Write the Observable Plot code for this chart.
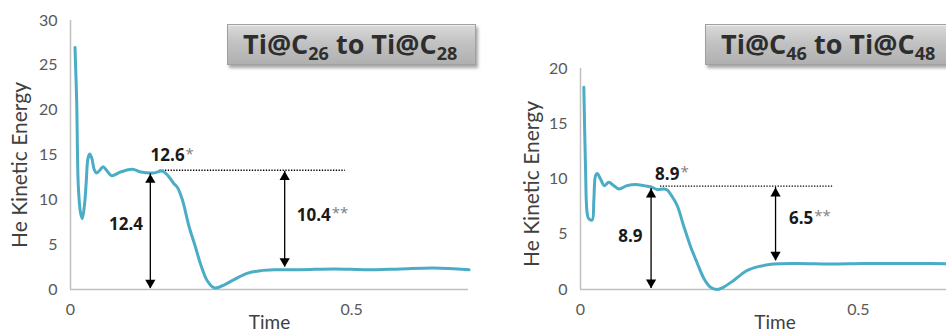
<!DOCTYPE html>
<html>
<head>
<meta charset="utf-8">
<script src="https://cdn.jsdelivr.net/npm/d3@7"></script>
<script src="https://cdn.jsdelivr.net/npm/@observablehq/plot@0.6"></script>
<style>
  html, body { margin: 0; padding: 0; background: #fff; }
  #wrap { position: relative; width: 946px; height: 332px; overflow: hidden; background: #fff; }
  .panel { position: absolute; top: 0; }
  .panel svg { max-width: none !important; }
  .box {
    position: absolute; box-sizing: border-box; height: 41px;
    background: linear-gradient(#dadada, #c2c2c2 45%, #b0b0b0);
    border: 1px solid #a0a0a0;
    box-shadow: 2px 3px 3px rgba(0,0,0,0.35), inset 0 1px 0 #eeeeee;
    font-family: "Open Sans", sans-serif; font-weight: 700; font-size: 27px;
    color: #2e2e2e; line-height: 38px; padding-left: 15px; white-space: nowrap;
  }
  .box sub { font-size: 18px; vertical-align: -6px; line-height: 0; }
</style>
</head>
<body>
<div id="wrap">
  <div id="left" class="panel" style="left:0px; width:480px;"></div>
  <div id="right" class="panel" style="left:480px; width:500px;"></div>
  <div class="box" style="left:227px; top:24px; width:249px;">Ti@C<sub>26</sub> to Ti@C<sub>28</sub></div>
  <div class="box" style="left:705px; top:24px; width:260px;">Ti@C<sub>46</sub> to Ti@C<sub>48</sub></div>
</div>
<script>
// ---- Data: Ti@C26 -> Ti@C28 (left) ----
const timeLeft = [0.008,0.011,0.014,0.018,0.021,0.025,0.028,0.031,0.034,0.038,0.042,0.046,0.052,0.058,0.064,0.073,0.089,0.110,0.125,0.148,0.163,0.172,0.184,0.190,0.199,0.211,0.222,0.231,0.243,0.255,0.261,0.273,0.291,0.314,0.338,0.362,0.409,0.469,0.528,0.587,0.646,0.709];
const energyLeft = [27.0,21.0,11.4,8.5,7.9,9.5,12.0,14.6,15.1,14.6,13.4,13.0,13.3,13.7,13.3,12.7,13.1,13.4,13.1,13.0,13.2,12.8,11.8,11.4,10.0,7.0,4.8,2.9,1.0,0.2,0.2,0.5,1.1,1.8,2.1,2.2,2.2,2.3,2.2,2.3,2.4,2.2];

// ---- Data: Ti@C46 -> Ti@C48 (right) ----
const timeRight = [0.006,0.009,0.012,0.015,0.021,0.024,0.027,0.030,0.036,0.043,0.051,0.060,0.069,0.084,0.099,0.114,0.126,0.138,0.150,0.156,0.165,0.174,0.186,0.198,0.210,0.222,0.234,0.246,0.257,0.275,0.299,0.323,0.347,0.389,0.449,0.509,0.569,0.629,0.700];
const energyRight = [18.3,11.1,6.9,6.4,6.3,8.1,10.3,10.5,10.0,9.4,9.7,9.4,9.1,9.4,9.5,9.4,9.3,9.05,9.1,9.0,8.4,7.6,5.7,3.9,2.4,1.0,0.2,0.0,0.2,0.8,1.7,2.1,2.3,2.35,2.3,2.35,2.35,2.35,2.3];

// Tick labels
const xTicks = [0, 0.5];
const yTicksLeft = [0, 5, 10, 15, 20, 25, 30];
const yTicksRight = [0, 5, 10, 15, 20];

// Annotations (data units)
const arrowTimeLeft = [0.142, 0.381];
const arrowLowLeft = [0.1, 2.5];
const arrowHighLeft = [12.9, 13.2];
const dottedLeft = {level: 13.3, from: 0.159, to: 0.489};
const labelsLeft = [
  {t: 0.203, e: 14.9, num: "12.6", star: "*"},
  {t: 0.463, e: 8.3, num: "10.4", star: "**"}
];
const plainLabelLeft = [{t: 0.0988, e: 7.2, num: "12.4"}];

const arrowTimeRight = [0.127, 0.351];
const arrowLowRight = [0.1, 2.6];
const arrowHighRight = [9.14, 9.23];
const dottedRight = {level: 9.35, from: 0.144, to: 0.455};
const labelsRight = [
  {t: 0.178, e: 10.4, num: "8.9", star: "*"},
  {t: 0.419, e: 6.43, num: "6.5", star: "**"}
];
const plainLabelRight = [{t: 0.0898, e: 4.83, num: "8.9"}];

function panel(cfg) {
  const series = cfg.time.map((t, i) => ({t, e: cfg.energy[i]}));
  const arrows = cfg.arrowTime.map((t, i) => ({t, lo: cfg.arrowLow[i], hi: cfg.arrowHigh[i]}));
  const numFont = {fontFamily: "Open Sans", fontWeight: 700, fontSize: 17, fill: "#1a1a1a"};
  return Plot.plot({
    width: cfg.width, height: 332,
    marginLeft: cfg.marginLeft, marginRight: cfg.marginRight,
    marginTop: cfg.marginTop, marginBottom: 43,
    x: {domain: [0, cfg.xMax]},
    y: {domain: [0, cfg.yMax]},
    style: {fontFamily: "Lato, sans-serif", background: "transparent", overflow: "visible", maxWidth: "none"},
    marks: [
      Plot.ruleX([0], {stroke: "#c0c0c0", strokeWidth: 1.5}),
      Plot.ruleY([0], {stroke: "#c0c0c0", strokeWidth: 1.5}),
      Plot.axisY({ticks: cfg.yTicks, tickSize: 0, tickPadding: 13, fontSize: 16, fill: "#595959", tickFormat: d => String(d), label: null}),
      Plot.axisX({ticks: xTicks, tickSize: 0, tickPadding: 14, fontSize: 16, fill: "#595959", tickFormat: d => String(d), label: null}),
      Plot.text(["Time"], {frameAnchor: "bottom", lineAnchor: "middle", dy: 33, fontSize: 19, fill: "#404040"}),
      Plot.text(["He Kinetic Energy"], {frameAnchor: "left", textAnchor: "middle", lineAnchor: "middle", rotate: -90, dx: cfg.ylabDx, dy: cfg.ylabDy, fontSize: 21, fill: "#404040"}),
      Plot.ruleY([cfg.dotted], {y: "level", x1: "from", x2: "to", stroke: "#000", strokeWidth: 1.3, strokeDasharray: "1.3,1.5"}),
      Plot.line(series, {x: "t", y: "e", stroke: "#4bacc6", strokeWidth: 3, curve: "catmull-rom"}),
      Plot.ruleX(arrows, {x: "t", y1: "lo", y2: "hi", stroke: "#000", strokeWidth: 1.3}),
      Plot.dot(arrows, {x: "t", y: "hi", symbol: "triangle", r: 3.8, fill: "#000", stroke: null, dy: 6}),
      Plot.dot(arrows, {x: "t", y: "lo", symbol: "triangle", r: 3.8, fill: "#000", stroke: null, rotate: 180, dy: -6}),
      Plot.text(cfg.labels, {x: "t", y: "e", text: "num", textAnchor: "end", ...numFont}),
      Plot.text(cfg.labels, {x: "t", y: "e", text: "star", textAnchor: "start", dx: 1, dy: -2, fontFamily: "Open Sans", fontSize: 15, fill: "#808080"}),
      Plot.text(cfg.plain, {x: "t", y: "e", text: "num", textAnchor: "middle", ...numFont})
    ]
  });
}

document.getElementById("left").append(panel({
  time: timeLeft, energy: energyLeft, width: 480, marginLeft: 70, marginRight: 12, marginTop: 20,
  xMax: 0.708, yMax: 30, yTicks: yTicksLeft, ylabDx: -50, ylabDy: 10,
  arrowTime: arrowTimeLeft, arrowLow: arrowLowLeft, arrowHigh: arrowHighLeft,
  dotted: dottedLeft, labels: labelsLeft, plain: plainLabelLeft
}));
document.getElementById("right").append(panel({
  time: timeRight, energy: energyRight, width: 500, marginLeft: 100, marginRight: 11, marginTop: 68,
  xMax: 0.7, yMax: 20, yTicks: yTicksRight, ylabDx: -48, ylabDy: 5,
  arrowTime: arrowTimeRight, arrowLow: arrowLowRight, arrowHigh: arrowHighRight,
  dotted: dottedRight, labels: labelsRight, plain: plainLabelRight
}));
</script>
</body>
</html>
